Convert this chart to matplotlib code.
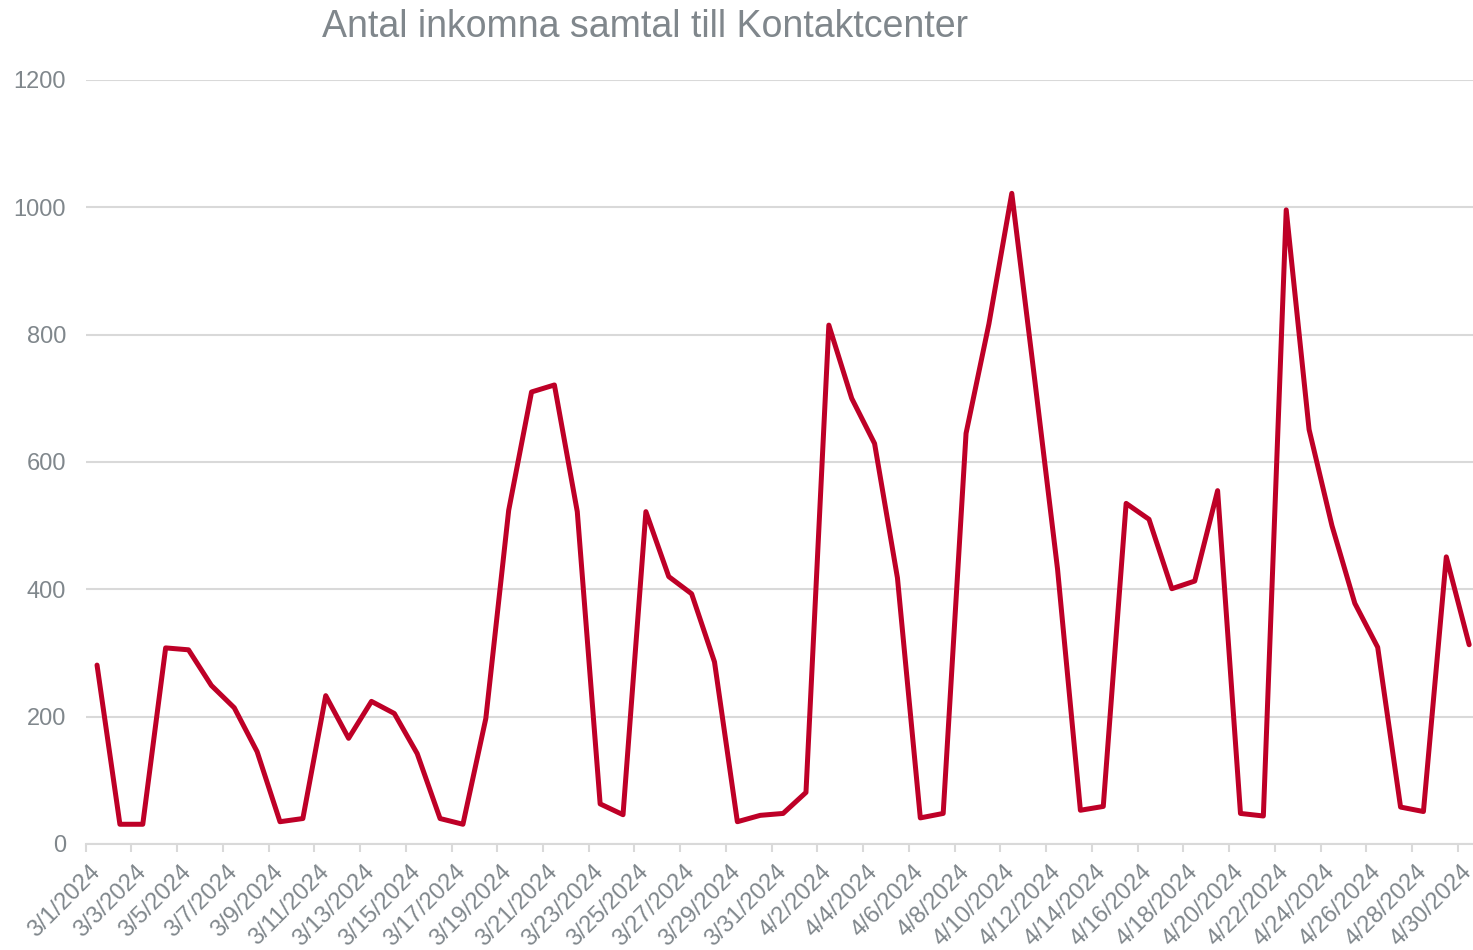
import numpy as np
import pandas as pd
import matplotlib
matplotlib.use('Agg')
import matplotlib.pyplot as plt
from matplotlib.ticker import FixedLocator
from matplotlib.transforms import ScaledTranslation

# daily incoming calls, 3/1/2024 - 4/30/2024
dates = pd.date_range('2024-03-01', '2024-04-30', freq='D')
calls = [281, 31, 31, 308, 305, 249, 214, 145, 35, 40,
         233, 166, 224, 205, 142, 40, 31, 197, 524, 710,
         721, 522, 63, 46, 522, 420, 393, 286, 35, 45,
         48, 81, 815, 700, 629, 418, 41, 48, 645, 817,
         1022, 730, 432, 53, 59, 535, 510, 401, 413, 555,
         48, 44, 996, 651, 500, 378, 309, 58, 51, 451,
         313]
date_labels = [f'{d.month}/{d.day}/{d.year}' for d in dates]
y_ticks = [0, 200, 400, 600, 800, 1000, 1200]

title_txt = 'Antal inkomna samtal till Kontaktcenter'

text_grey = '#80878c'
grid_grey = '#d9d9d9'
line_red = '#be0027'

plt.rcParams['font.family'] = ['Liberation Sans', 'DejaVu Sans']

fig = plt.figure(figsize=(14.73, 9.5), dpi=100)
ax = fig.add_axes([85.6 / 1473, 106 / 950, 1395 / 1473, 764 / 950])

x = np.arange(len(calls))
ax.plot(x, calls, color=line_red, linewidth=3.6,
        solid_joinstyle='round', solid_capstyle='round', zorder=3)

ax.set_xlim(-0.5, len(calls) - 0.5)
ax.set_ylim(0, 1200)
ax.set_yticks(y_ticks)
ax.set_yticklabels([str(v) for v in y_ticks])
ax.yaxis.grid(True, color=grid_grey, linewidth=1.5)
ax.set_axisbelow(True)

for s in ['top', 'right', 'left']:
    ax.spines[s].set_visible(False)
ax.spines['bottom'].set_color(grid_grey)
ax.spines['bottom'].set_linewidth(1.5)

# labels every other day, tick marks between category pairs
ax.set_xticks(x[::2])
ax.set_xticklabels(date_labels[::2], rotation=45, ha='right', va='top',
                   rotation_mode='anchor')
ax.xaxis.set_minor_locator(FixedLocator(np.arange(-0.5, len(calls), 2)))
ax.tick_params(axis='x', which='major', length=0, pad=12,
               labelsize=17, labelcolor=text_grey)
ax.tick_params(axis='x', which='minor', length=6, width=1.5, color=grid_grey)
ax.tick_params(axis='y', length=0, pad=14, labelsize=17, labelcolor=text_grey)

shift = ScaledTranslation(-8 / 100, 0, fig.dpi_scale_trans)
for lbl in ax.get_xticklabels():
    lbl.set_transform(lbl.get_transform() + shift)

fig.text(645 / 1473, 1 - 27 / 950, title_txt, ha='center', va='center',
         fontsize=27, color=text_grey)

fig.savefig('out.png', dpi=100)
plt.close()
